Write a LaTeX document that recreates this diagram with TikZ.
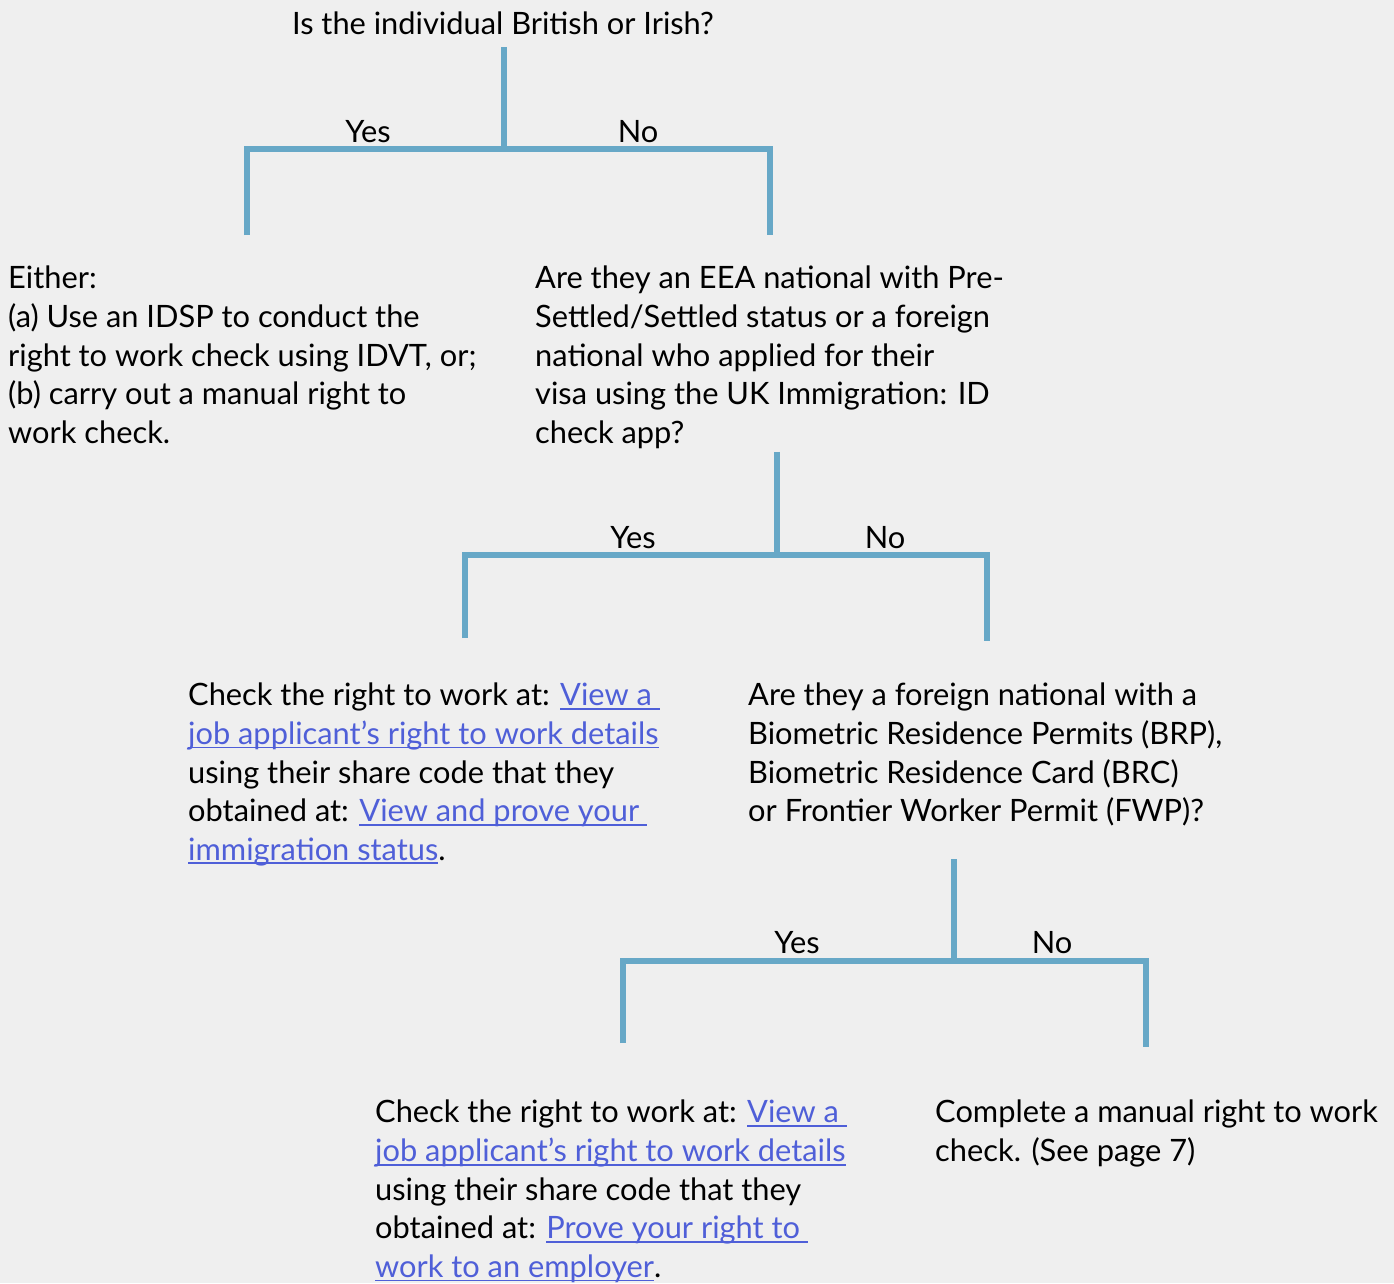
\documentclass[tikz,border=0pt]{standalone}
\usepackage{fontspec}
\setmainfont{Lato}
\definecolor{pagegray}{HTML}{EFEFEF}
\definecolor{branchblue}{HTML}{67A8C7}
\definecolor{linkblue}{HTML}{4F5FD8}

\begin{document}
\begin{tikzpicture}
  [x=1pt,y=-1pt
  ,textblock/.style={anchor=north west,inner sep=0pt,align=left,font=\fontsize{30.8}{38.6}\selectfont}
  ,answer/.style={anchor=base,inner sep=0pt,font=\fontsize{30.8}{38.6}\selectfont}
  ,branch/.style={draw=branchblue,line width=5.2pt}
  ]

  % Link text, underlined
  %
  % #1 - text
  \newcommand{\weblink}[1]{{\color{linkblue}\setbox0\hbox{#1}\rlap{\rule[-4pt]{\wd0}{1.8pt}}\box0}}

  % page
  \fill[pagegray] (0,0) rectangle (1394,1283);

  % British or Irish
  \node[answer] (british) at (503,34) {Is the individual British or Irish?};
  \coordinate (fork1) at (504,149);
  \coordinate (british yes) at (247,235);
  \coordinate (british no) at (770,235);
  \draw[branch,shorten <=13pt] (british.south -| fork1) -- (fork1);
  \draw[branch] (british yes) |- (fork1) -| (british no);
  \node[answer] (yes1) at (368,142) {Yes};
  \node[answer] (no1) at (638,142) {No};

  \node[textblock] (either) at (8,266)
    {Either:\\(a) Use an IDSP to conduct the\\right to work check using IDVT, or;\\(b) carry out a manual right to\\work check.};
  \node[textblock] (eea) at (535,266)
    {Are they an EEA national with Pre-\\Settled/Settled status or a foreign\\national who applied for their\\visa using the UK Immigration: ID\\check app?};

  % EEA national
  \coordinate (fork2) at (777,555);
  \coordinate (eea yes) at (465,638);
  \coordinate (eea no) at (987,641);
  \draw[branch,shorten <=3pt] (eea.south -| fork2) -- (fork2);
  \draw[branch] (eea yes) |- (fork2) -| (eea no);
  \node[answer] (yes2) at (633,548) {Yes};
  \node[answer] (no2) at (885,548) {No};

  \node[textblock] (share1) at (188,683)
    {Check the right to work at: \weblink{View a\ }\\\weblink{job applicant’s right to work details}\\using their share code that they\\obtained at: \weblink{View and prove your\ }\\\weblink{immigration status}.};
  \node[textblock] (biometric) at (748,683)
    {Are they a foreign national with a\\Biometric Residence Permits (BRP),\\Biometric Residence Card (BRC)\\or Frontier Worker Permit (FWP)?};

  % BRP, BRC or FWP
  \coordinate (fork3) at (954,961);
  \coordinate (biometric yes) at (623,1043);
  \coordinate (biometric no) at (1146,1047);
  \draw[branch,shorten <=33pt] (biometric.south -| fork3) -- (fork3);
  \draw[branch] (biometric yes) |- (fork3) -| (biometric no);
  \node[answer] (yes3) at (797,953) {Yes};
  \node[answer] (no3) at (1052,953) {No};

  \node[textblock] (share2) at (375,1100)
    {Check the right to work at: \weblink{View a\ }\\\weblink{job applicant’s right to work details}\\using their share code that they\\obtained at: \weblink{Prove your right to\ }\\\weblink{work to an employer}.};
  \node[textblock] (manual) at (935,1100)
    {Complete a manual right to work\\check. (See page 7)};

\end{tikzpicture}
\end{document}
